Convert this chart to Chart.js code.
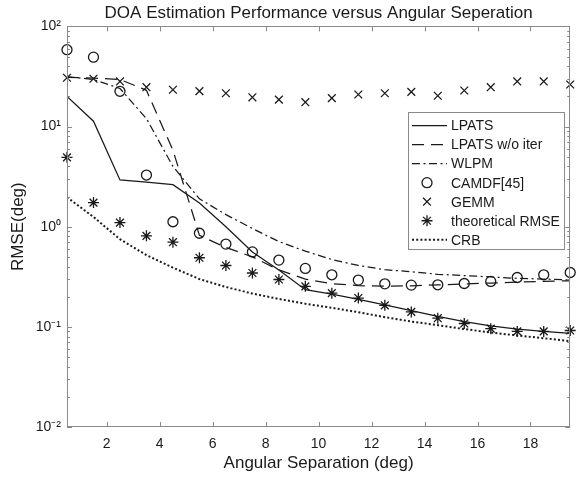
<!DOCTYPE html>
<html>
<head>
<meta charset="utf-8">
<title>DOA Estimation Performance versus Angular Seperation</title>
<script src="https://cdn.jsdelivr.net/npm/chart.js@4/dist/chart.umd.min.js"></script>
<style>
  html, body { margin: 0; padding: 0; background: #fff; }
  #chart { display: block; }
</style>
</head>
<body>
<canvas id="chart" width="577" height="481"></canvas>
<script>
// angular separation (deg)
const separation = [0.5, 1.5, 2.5, 3.5, 4.5, 5.5, 6.5, 7.5, 8.5, 9.5,
  10.5, 11.5, 12.5, 13.5, 14.5, 15.5, 16.5, 17.5, 18.5, 19.5];

// RMSE (deg)
const lpats = [20, 11.3, 2.93, 2.78, 2.63, 1.72, 1.0, 0.56, 0.37, 0.235,
  0.212, 0.188, 0.166, 0.145, 0.127, 0.113, 0.102, 0.095, 0.09, 0.086];
const lpatsNoIter = [31, 30.5, 29.5, 23, 5.8, 0.82, 0.62, 0.5, 0.37, 0.3,
  0.27, 0.258, 0.255, 0.257, 0.262, 0.268, 0.274, 0.28, 0.285, 0.288];
const wlpm = [31.5, 29.5, 24, 12, 4.0, 1.9, 1.32, 0.96, 0.71, 0.57,
  0.47, 0.41, 0.372, 0.355, 0.335, 0.325, 0.315, 0.305, 0.3, 0.294];
const camdf = [58.5, 49.3, 22.5, 3.28, 1.12, 0.86, 0.67, 0.56, 0.464, 0.383,
  0.331, 0.293, 0.269, 0.261, 0.263, 0.271, 0.284, 0.311, 0.331, 0.349];
const gemm = [30.7, 30.0, 28.2, 24.7, 23.3, 22.6, 21.5, 19.6, 18.6, 17.5,
  19.2, 20.9, 21.5, 22.2, 20.3, 22.9, 24.7, 28.2, 28.2, 26.3];
const theoretical = [4.93, 1.74, 1.1, 0.81, 0.7, 0.49, 0.41, 0.345, 0.297, 0.254,
  0.217, 0.194, 0.164, 0.141, 0.122, 0.108, 0.096, 0.09, 0.09, 0.092];
const crb = [1.97, 1.25, 0.75, 0.52, 0.39, 0.3, 0.25, 0.215, 0.19, 0.17,
  0.155, 0.14, 0.125, 0.113, 0.104, 0.095, 0.088, 0.082, 0.077, 0.072];

const xTicks = [2, 4, 6, 8, 10, 12, 14, 16, 18];
const yTicks = [0.01, 0.1, 1, 10, 100];
const yTickLabels = ['10⁻²', '10⁻¹', '10⁰', '10¹', '10²'];

const ink = '#1a1a1a';
const axisColor = '#8a8a8a';
const fontFamily = "'Liberation Sans', Arial, Helvetica, sans-serif";

Chart.defaults.font.family = fontFamily;
Chart.defaults.color = ink;

function toPoints(values) {
  return values.map((v, i) => ({ x: separation[i], y: v }));
}

function lineSet(label, values, dash, width) {
  return {
    label,
    data: toPoints(values),
    borderColor: ink,
    borderWidth: width || 1.25,
    borderDash: dash,
    pointRadius: 0,
    fill: false,
    tension: 0,
  };
}

function markerSet(label, values, style, radius) {
  return {
    label,
    data: toPoints(values),
    showLine: false,
    borderColor: ink,
    backgroundColor: 'transparent',
    pointStyle: style,
    pointRadius: radius,
    pointBorderWidth: 1.3,
    pointBackgroundColor: 'transparent',
    pointBorderColor: ink,
    clip: false,
  };
}

// hand-drawn markers for the legend box, same look as chart.js point styles
function drawMarker(ctx, style, x, y, r) {
  ctx.beginPath();
  if (style === 'circle') {
    ctx.arc(x, y, r, 0, Math.PI * 2);
  } else {
    const d = r * Math.SQRT1_2;
    ctx.moveTo(x - d, y - d); ctx.lineTo(x + d, y + d);
    ctx.moveTo(x - d, y + d); ctx.lineTo(x + d, y - d);
    if (style === 'star') {
      ctx.moveTo(x - r, y); ctx.lineTo(x + r, y);
      ctx.moveTo(x, y - r); ctx.lineTo(x, y + r);
    }
  }
  ctx.stroke();
}

const matlabAxes = {
  id: 'matlabAxes',
  afterDraw(chart) {
    const { ctx, chartArea: a, scales: { x, y } } = chart;
    ctx.save();

    // box and inward ticks
    ctx.strokeStyle = axisColor;
    ctx.lineWidth = 1;
    ctx.setLineDash([]);
    ctx.beginPath();
    xTicks.forEach((v) => {
      const px = Math.round(x.getPixelForValue(v)) + 0.5;
      ctx.moveTo(px, a.bottom); ctx.lineTo(px, a.bottom - 5);
      ctx.moveTo(px, a.top); ctx.lineTo(px, a.top + 5);
    });
    for (let e = -2; e < 2; e++) {
      for (let m = 1; m < 10; m++) {
        const py = Math.round(y.getPixelForValue(m * Math.pow(10, e))) + 0.5;
        const len = m === 1 ? 5 : 3;
        ctx.moveTo(a.left, py); ctx.lineTo(a.left + len, py);
        ctx.moveTo(a.right, py); ctx.lineTo(a.right - len, py);
      }
    }
    ctx.stroke();
    ctx.strokeRect(Math.round(a.left) + 0.5, Math.round(a.top) + 0.5,
      Math.round(a.right - a.left) - 1, Math.round(a.bottom - a.top) - 1);

    // legend box
    const bx = 408, by = 112, bw = 156, bh = 137;
    ctx.fillStyle = '#fff';
    ctx.fillRect(bx, by, bw, bh);
    ctx.strokeStyle = axisColor;
    ctx.strokeRect(bx + 0.5, by + 0.5, bw, bh);

    ctx.font = '14px ' + fontFamily;
    ctx.textBaseline = 'middle';
    ctx.textAlign = 'left';
    chart.data.datasets.forEach((ds, i) => {
      const ly = by + 13.5 + i * 19.05;
      ctx.strokeStyle = ink;
      ctx.fillStyle = ink;
      if (ds.showLine === false) {
        ctx.setLineDash([]);
        ctx.lineWidth = ds.pointBorderWidth;
        drawMarker(ctx, ds.pointStyle, 427, ly, ds.pointRadius);
      } else {
        ctx.setLineDash(ds.borderDash || []);
        ctx.lineWidth = ds.borderWidth;
        ctx.beginPath();
        ctx.moveTo(412, ly);
        ctx.lineTo(447, ly);
        ctx.stroke();
      }
      ctx.fillText(ds.label, 451, ly + 1);
    });
    ctx.restore();
  },
};

new Chart(document.getElementById('chart'), {
  type: 'line',
  data: {
    datasets: [
      lineSet('LPATS', lpats, []),
      lineSet('LPATS w/o iter', lpatsNoIter, [12, 7]),
      lineSet('WLPM', wlpm, [8, 3.5, 2, 3.5]),
      markerSet('CAMDF[45]', camdf, 'circle', 5),
      markerSet('GEMM', gemm, 'crossRot', 5.5),
      markerSet('theoretical RMSE', theoretical, 'star', 5.5),
      lineSet('CRB', crb, [2, 2.2], 2),
    ],
  },
  options: {
    responsive: false,
    animation: false,
    devicePixelRatio: 1,
    layout: { padding: { left: 0, right: 4, top: 0, bottom: 0 } },
    plugins: {
      legend: { display: false },
      tooltip: { enabled: false },
      title: {
        display: true,
        fullSize: false,
        text: 'DOA Estimation Performance versus Angular Seperation',
        color: ink,
        font: { size: 17, weight: 'normal' },
        padding: { top: 3, bottom: 3 },
      },
    },
    scales: {
      x: {
        type: 'linear',
        min: 0.5,
        max: 19.5,
        afterBuildTicks: (scale) => {
          scale.ticks = xTicks.map((v) => ({ value: v }));
        },
        afterFit: (scale) => { scale.height = 54; },
        grid: { display: false, drawTicks: false },
        border: { display: false },
        ticks: { color: ink, font: { size: 14 }, padding: 9, maxRotation: 0 },
        title: {
          display: true,
          text: 'Angular Separation (deg)',
          color: ink,
          font: { size: 17 },
          padding: { top: 0, bottom: 7 },
        },
      },
      y: {
        type: 'logarithmic',
        min: 0.01,
        max: 100,
        afterBuildTicks: (scale) => {
          scale.ticks = yTicks.map((v) => ({ value: v }));
        },
        afterFit: (scale) => { scale.width = 67; },
        grid: { display: false, drawTicks: false },
        border: { display: false },
        ticks: {
          color: ink,
          font: { size: 14 },
          padding: 6,
          callback: (v) => {
            const i = yTicks.indexOf(v);
            return i < 0 ? '' : yTickLabels[i];
          },
        },
        title: {
          display: true,
          text: 'RMSE(deg)',
          color: ink,
          font: { size: 17 },
          padding: { top: 8, bottom: 0 },
        },
      },
    },
  },
  plugins: [matlabAxes],
});
</script>
</body>
</html>
